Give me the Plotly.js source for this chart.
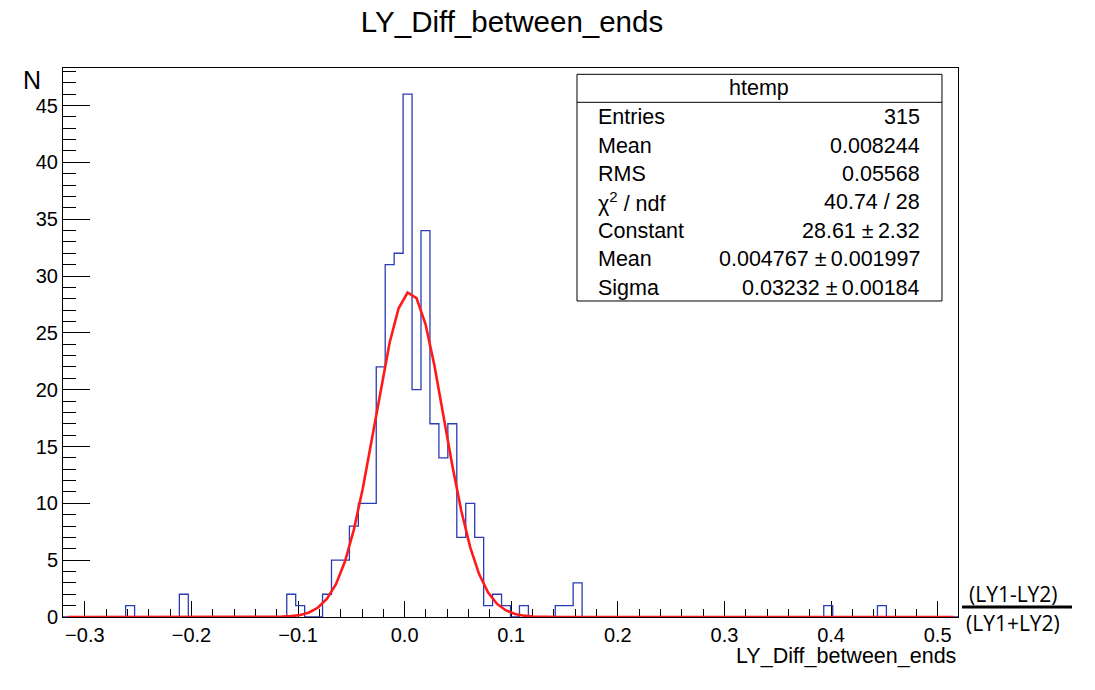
<!DOCTYPE html>
<html>
<head>
<meta charset="utf-8">
<script src="https://cdn.plot.ly/plotly-3.0.1.min.js"></script>
<style>
  html, body { margin: 0; padding: 0; background: #ffffff; }
  #chart { width: 1095px; height: 690px; }
</style>
</head>
<body>
<div id="chart"></div>
<script>
// ---- data ----
const histName = "htemp";
const chartTitle = "LY_Diff_between_ends";
const xLabel = "LY_Diff_between_ends";
const yLabel = "N";
const binLow = -0.3205;      // lower edge of the first bin
const binWidth = 0.008396;   // 100 bins
// counts per bin (100 bins)
const counts = [
  0, 0, 0, 0, 0, 0, 0, 1, 0, 0,
  0, 0, 0, 2, 0, 0, 0, 0, 0, 0,
  0, 0, 0, 0, 0, 2, 1, 0, 0, 2,
  5, 5, 8, 10, 10, 22, 31, 32, 46, 20,
  34, 17, 14, 17, 7, 10, 7, 1, 2, 1,
  0, 1, 0, 0, 0, 1, 1, 3, 0, 0,
  0, 0, 0, 0, 0, 0, 0, 0, 0, 0,
  0, 0, 0, 0, 0, 0, 0, 0, 0, 0,
  0, 0, 0, 0, 0, 1, 0, 0, 0, 0,
  0, 1, 0, 0, 0, 0, 0, 0, 0, 0
];
const fitValues = [
  0, 0, 0, 0, 0, 0, 0, 0, 0, 0,
  0, 0, 0, 0, 0, 0, 0, 0, 0, 0,
  0, 0, 0, 0.011, 0.031, 0.077, 0.182, 0.403, 0.831, 1.604,
  2.894, 4.878, 7.688, 11.33, 15.60, 20.07, 24.15, 27.16, 28.55, 28.06,
  25.77, 22.13, 17.76, 13.32, 9.343, 6.124, 3.752, 2.149, 1.150, 0.575,
  0.269, 0.118, 0.048, 0.018, 0.007, 0, 0, 0, 0, 0,
  0, 0, 0, 0, 0, 0, 0, 0, 0, 0,
  0, 0, 0, 0, 0, 0, 0, 0, 0, 0,
  0, 0, 0, 0, 0, 0, 0, 0, 0, 0,
  0, 0, 0, 0, 0, 0, 0, 0, 0, 0
];
const statLabels = ["Entries", "Mean", "RMS", "\u03C7<sup>2</sup> / ndf", "Constant", "Mean", "Sigma"];
const statValues = ["315", "0.008244", "0.05568", "40.74 / 28", "28.61 \u00B1\u20092.32", "0.004767 \u00B1\u20090.001997", "0.03232 \u00B1\u20090.00184"];
const fracTop = "(LY1-LY2)";
const fracBottom = "(LY1+LY2)";

// ---- build traces ----
const nBins = counts.length;
const edges = [], stepY = [], centres = [];
for (let i = 0; i <= nBins; i++) {
  edges.push(binLow + i * binWidth);
  stepY.push(i < nBins ? counts[i] : counts[nBins - 1]);
}
for (let i = 0; i < nBins; i++) centres.push(binLow + (i + 0.5) * binWidth);
const xMin = edges[0], xMax = edges[nBins];
const yMax = Math.max(...counts) * 1.05;

const histTrace = {
  type: 'scatter', mode: 'lines', x: edges, y: stepY,
  line: { shape: 'hv', color: '#2a3cb4', width: 1.3 },
  hoverinfo: 'skip', showlegend: false
};
const fitTrace = {
  type: 'scatter', mode: 'lines', x: centres, y: fitValues,
  line: { color: '#ff1a1a', width: 2.6 },
  hoverinfo: 'skip', showlegend: false
};

const FONT = '"Liberation Sans", Arial, Helvetica, sans-serif';
const STAT = 21.5;

// ---- stats box ----
const bx0 = 0.5743, bx1 = 0.9821, by0 = 0.5756, by1 = 0.9885, headY = 0.9375;
const rowY = [117, 146, 174, 202, 231, 259, 288].map(p => (617 - p) / 549);
const shapes = [
  { type: 'rect', xref: 'paper', yref: 'paper', x0: bx0, x1: bx1, y0: by0, y1: by1,
    line: { color: '#000', width: 1 }, fillcolor: '#fff', layer: 'above' },
  { type: 'line', xref: 'paper', yref: 'paper', x0: bx0, x1: bx1, y0: headY, y1: headY,
    line: { color: '#000', width: 1 }, layer: 'above' },
  { type: 'line', xref: 'paper', yref: 'paper', x0: 1.0045, x1: 1.1274, y0: 0.0182, y1: 0.0182,
    line: { color: '#000', width: 3 } }
];
const annotations = [
  { xref: 'paper', yref: 'paper', x: 0.7777, y: (617 - 88) / 549, text: histName, showarrow: false,
    xanchor: 'center', yanchor: 'middle', font: { family: FONT, size: STAT, color: '#000' } },
  { xref: 'paper', yref: 'paper', x: -0.0346, y: (617 - 80) / 549, text: yLabel, showarrow: false,
    xanchor: 'center', yanchor: 'middle', font: { family: FONT, size: 25, color: '#000' } },
  { xref: 'paper', yref: 'paper', x: 1.0, y: (617 - 656) / 549, text: xLabel, showarrow: false,
    xanchor: 'right', yanchor: 'middle', font: { family: FONT, size: 21.5, color: '#000' } },
  { xref: 'paper', yref: 'paper', x: 1.0615, y: (617 - 594) / 549, text: fracTop, showarrow: false,
    xanchor: 'center', yanchor: 'middle', font: { family: '"Open Sans", sans-serif', size: 21, color: '#000' } },
  { xref: 'paper', yref: 'paper', x: 1.0615, y: (617 - 623) / 549, text: fracBottom, showarrow: false,
    xanchor: 'center', yanchor: 'middle', font: { family: '"Open Sans", sans-serif', size: 21, color: '#000' } }
];
statLabels.forEach((t, i) => annotations.push({
  xref: 'paper', yref: 'paper', x: 0.5955, y: rowY[i], text: t, showarrow: false,
  xanchor: 'left', yanchor: 'middle', font: { family: FONT, size: STAT, color: '#000' }
}));
statValues.forEach((t, i) => annotations.push({
  xref: 'paper', yref: 'paper', x: 0.9598, y: rowY[i], text: t, showarrow: false,
  xanchor: 'right', yanchor: 'middle', font: { family: FONT, size: STAT, color: '#000' }
}));

const layout = {
  width: 1095, height: 690,
  margin: { l: 63, r: 137, t: 68, b: 73, autoexpand: false },
  paper_bgcolor: '#fff', plot_bgcolor: '#fff',
  font: { family: FONT, size: 20, color: '#000' },
  title: { text: chartTitle, xref: 'container', yref: 'container', x: 0.4676, y: 1 - 22 / 690,
           xanchor: 'center', yanchor: 'middle', font: { family: FONT, size: 29.5, color: '#000' } },
  xaxis: {
    range: [xMin, xMax], showgrid: false, zeroline: false,
    showline: true, mirror: true, linecolor: '#000', linewidth: 1,
    ticks: 'inside', ticklen: 16, tickcolor: '#000', tickwidth: 1,
    tick0: 0, dtick: 0.1, tickformat: '.1f',
    minor: { ticks: 'inside', ticklen: 8, tickcolor: '#000', dtick: 0.02, tick0: 0, showgrid: false },
    tickfont: { family: FONT, size: 20, color: '#000' },
    layer: 'below traces', fixedrange: true
  },
  yaxis: {
    range: [0, yMax], showgrid: false, zeroline: false,
    showline: true, mirror: true, linecolor: '#000', linewidth: 1,
    ticks: 'inside', ticklen: 27, tickcolor: '#000', tickwidth: 1,
    tick0: 0, dtick: 5,
    minor: { ticks: 'inside', ticklen: 13, tickcolor: '#000', dtick: 1, tick0: 0, showgrid: false },
    tickfont: { family: FONT, size: 20, color: '#000' },
    layer: 'below traces', fixedrange: true
  },
  shapes: shapes,
  annotations: annotations,
  showlegend: false
};

Plotly.newPlot('chart', [histTrace, fitTrace], layout, { displayModeBar: false, staticPlot: true });
</script>
</body>
</html>
